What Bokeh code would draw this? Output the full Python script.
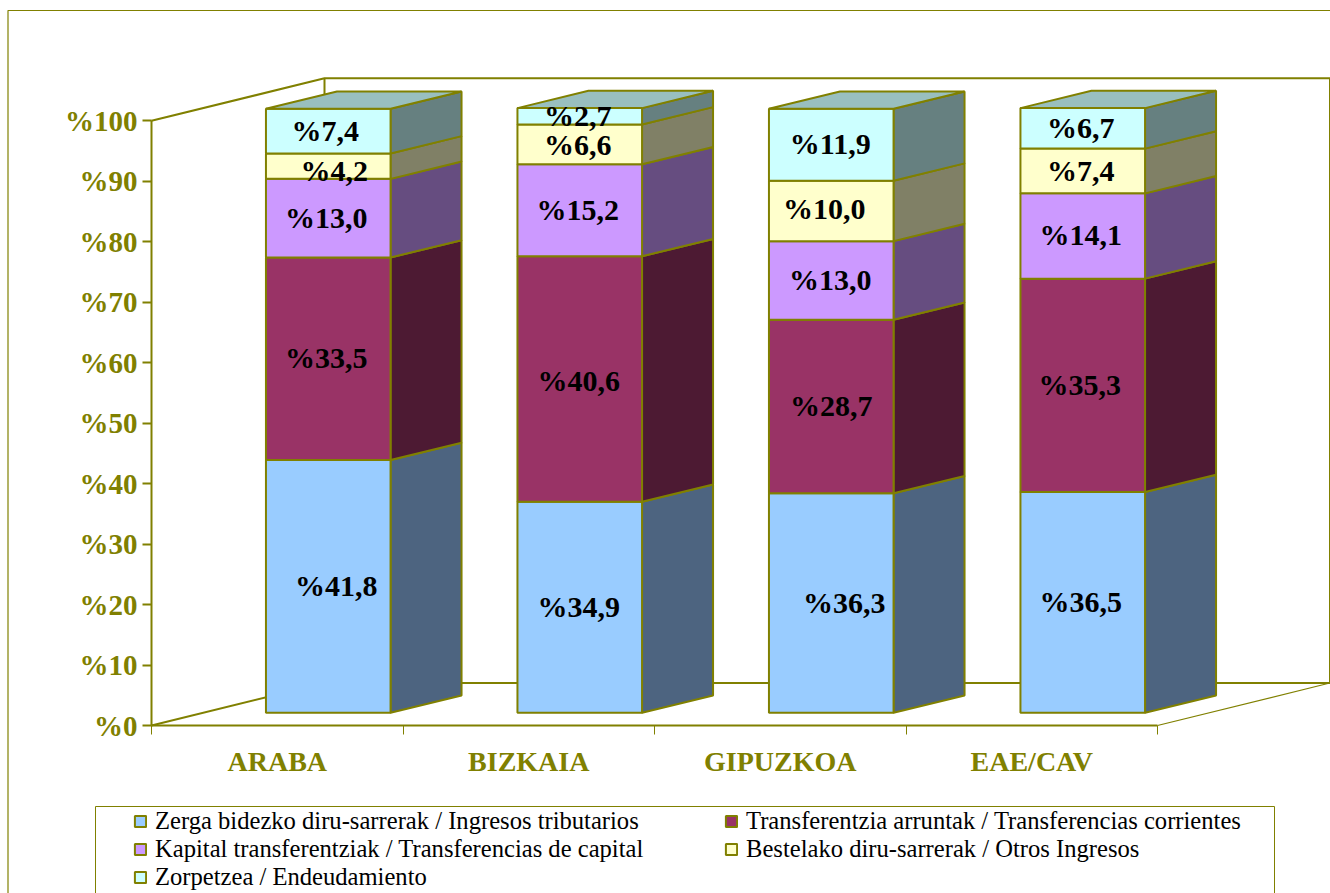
from bokeh.plotting import figure
from bokeh.models import Range1d, FixedTicker, Legend, LegendItem, ColumnDataSource
from bokeh.core.properties import value
from bokeh.embed import file_html
from bokeh.resources import INLINE

# ---------- data ----------
regions = ["ARABA", "BIZKAIA", "GIPUZKOA", "EAE/CAV"]
tributarios = [41.8, 34.9, 36.3, 36.5]
corrientes = [33.5, 40.6, 28.7, 35.3]
capital = [13.0, 15.2, 13.0, 14.1]
otros = [4.2, 6.6, 10.0, 7.4]
endeudamiento = [7.4, 2.7, 11.9, 6.7]
series_names = [
    "Zerga bidezko diru-sarrerak / Ingresos tributarios",
    "Transferentzia arruntak / Transferencias corrientes",
    "Kapital transferentziak / Transferencias de capital",
    "Bestelako diru-sarrerak / Otros Ingresos",
    "Zorpetzea / Endeudamiento",
]
y_ticks = [0, 10, 20, 30, 40, 50, 60, 70, 80, 90, 100]

# ---------- styles / layout ----------
series = [tributarios, corrientes, capital, otros, endeudamiento]
front_colors = ["#99CCFF", "#993366", "#CC99FF", "#FFFFCC", "#CCFFFF"]
side_colors = ["#4D6480", "#4D1A33", "#664D80", "#808066", "#668080"]
top_color = "#99BFBF"
OLIVE = "#808000"
SERIF = "Liberation Serif"

W, H = 1330, 893
AX_X, AX_Y = 151, 725          # picture px of data origin
PX_CAT, PX_PCT = 251.5, 6.047  # px per category, px per percent


def dx(px):
    return px / PX_CAT


def dy(px):
    return px / PX_PCT


def wx(px):  # picture px -> data x
    return (px - AX_X) / PX_CAT


def wy(px):  # picture px -> data y
    return (AX_Y - px) / PX_PCT


p = figure(
    width=W, height=H, output_backend="svg", toolbar_location=None,
    x_range=Range1d(wx(0), wx(W)), y_range=Range1d(wy(H), wy(0)),
    min_border=0, outline_line_color=None, background_fill_color="white",
)
p.grid.visible = False

# ---------- axes ----------
ya = p.yaxis[0]
ya.fixed_location = 0
ya.ticker = FixedTicker(ticks=y_ticks)
ya.major_label_overrides = {t: f"%{t}" for t in y_ticks}
ya.bounds = (0, 100)
ya.axis_line_color = OLIVE
ya.axis_line_width = 2
ya.major_tick_line_color = OLIVE
ya.major_tick_line_width = 2
ya.major_tick_in = 0
ya.major_tick_out = 9
ya.minor_tick_line_color = None
ya.major_label_standoff = 5
ya.major_label_text_font = SERIF
ya.major_label_text_font_style = "bold"
ya.major_label_text_font_size = "29px"
ya.major_label_text_color = OLIVE

xa = p.xaxis[0]
xa.fixed_location = 0
centers = [i + 0.5 for i in range(len(regions))]
xa.ticker = FixedTicker(ticks=centers, minor_ticks=list(range(len(regions) + 1)))
xa.major_label_overrides = {c: r for c, r in zip(centers, regions)}
xa.bounds = (0, len(regions))
xa.axis_line_color = OLIVE
xa.axis_line_width = 2
xa.major_tick_line_color = None
xa.minor_tick_line_color = OLIVE
xa.minor_tick_line_width = 1
xa.minor_tick_in = 0
xa.minor_tick_out = 9
xa.major_label_standoff = 11
xa.major_label_text_font = SERIF
xa.major_label_text_font_style = "bold"
xa.major_label_text_font_size = "28px"
xa.major_label_text_color = OLIVE

# ---------- walls and floor ----------
WALL_DX, WALL_DY = dx(173), dy(42.5)
n = len(regions)
p.multi_line(
    xs=[[0, WALL_DX, wx(1329.5), wx(1329.5)], [WALL_DX, WALL_DX], [WALL_DX, wx(1329.5)], [0, WALL_DX]],
    ys=[[100, 100 + WALL_DY, 100 + WALL_DY, WALL_DY], [100 + WALL_DY, WALL_DY], [WALL_DY, WALL_DY], [0, WALL_DY]],
    line_color=OLIVE, line_width=2,
)
p.line(x=[wx(1329.5), n], y=[WALL_DY, 0], line_color=OLIVE, line_width=1.2)

# ---------- 3D stacked bars ----------
HALF = dx(62.3)
SHIFT_X, SHIFT_Y = dx(51), dy(12.7)
DEPTH_X, DEPTH_Y = dx(71), dy(17.3)
legend_items = []
cum = [0.0] * n
for k, (vals, name) in enumerate(zip(series, series_names)):
    left = [i + 0.5 + SHIFT_X - HALF for i in range(n)]
    right = [i + 0.5 + SHIFT_X + HALF for i in range(n)]
    bottom = [c + SHIFT_Y for c in cum]
    top = [c + v + SHIFT_Y for c, v in zip(cum, vals)]
    side_xs = [[r, r + DEPTH_X, r + DEPTH_X, r] for r in right]
    side_ys = [[b, b + DEPTH_Y, t + DEPTH_Y, t] for b, t in zip(bottom, top)]
    p.patches(side_xs, side_ys, fill_color=side_colors[k], line_color=OLIVE, line_width=2)
    r = p.quad(left=left, right=right, bottom=bottom, top=top,
               fill_color=front_colors[k], line_color=OLIVE, line_width=2)
    legend_items.append(LegendItem(label=name, renderers=[r]))
    if k == len(series) - 1:
        p.patches(
            [[l, l + DEPTH_X, rr + DEPTH_X, rr] for l, rr in zip(left, right)],
            [[t, t + DEPTH_Y, t + DEPTH_Y, t] for t in top],
            fill_color=top_color, line_color=OLIVE, line_width=2,
        )
    cum = [c + v for c, v in zip(cum, vals)]

# ---------- value labels (hand-placed nudges as in the source chart, px) ----------
nudge_x = [[8, -2, -2, 6, -3], [-1, -1, -2, -2, -2], [13, 0, -1, -7, -1], [-2, -3, -2, -2, -2]]
nudge_y = [[-1, -1, -1, 4, -1], [-1, 1, -1, 0, -1], [-1, -1, -1, -2, -1], [-1, -1, -1, 0, -1]]
lx, ly, lt, ox, oy = [], [], [], [], []
cum = [0.0] * n
for k, vals in enumerate(series):
    for i, v in enumerate(vals):
        lx.append(i + 0.5 + SHIFT_X)
        ly.append(cum[i] + v / 2 + SHIFT_Y)
        lt.append("%" + f"{v:.1f}".replace(".", ","))
        ox.append(nudge_x[i][k])
        oy.append(nudge_y[i][k])
    cum = [c + v for c, v in zip(cum, vals)]
src = ColumnDataSource(dict(x=lx, y=ly, t=lt, ox=ox, oy=oy))
p.text("x", "y", text="t", source=src, x_offset="ox", y_offset="oy", level="overlay",
       text_font=value(SERIF), text_font_style="bold", text_font_size="30px",
       text_color="black", text_align="center", text_baseline="middle")

# ---------- outer frame and legend box ----------
p.multi_line(
    xs=[[wx(7.5), wx(7.5), wx(W)]],
    ys=[[wy(H), wy(10), wy(10)]],
    line_color=OLIVE, line_width=1.2,
)
p.multi_line(
    xs=[[wx(95), wx(95), wx(1274), wx(1274)]],
    ys=[[wy(H), wy(806), wy(806), wy(H)]],
    line_color=OLIVE, line_width=1,
)

# ---------- legend ----------
legend = Legend(
    items=legend_items, ncols=2, orientation="horizontal",
    location=(133, H - 891), margin=0, padding=0, spacing=0,
    border_line_color=None, background_fill_alpha=0,
    glyph_width=14, glyph_height=14, label_height=26, label_width=569, label_standoff=8,
    label_text_font=SERIF, label_text_font_size="24.6px", label_text_color="black",
)
p.add_layout(legend, "center")

open("out.html", "w").write(file_html(p, INLINE))
